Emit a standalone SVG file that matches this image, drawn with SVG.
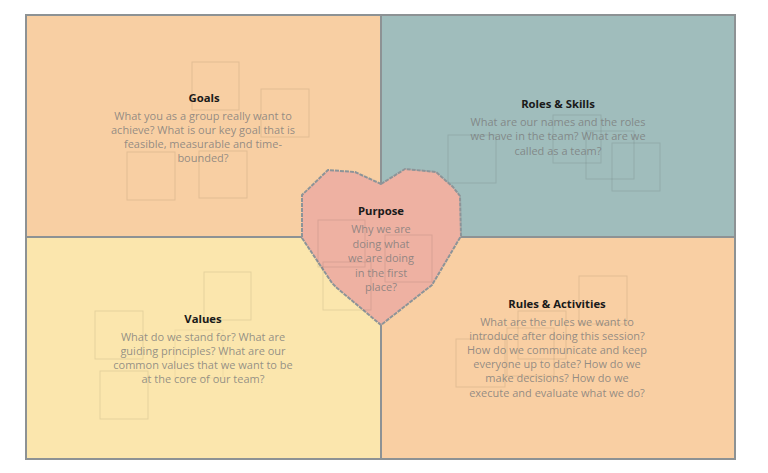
<svg xmlns="http://www.w3.org/2000/svg" width="768" height="473" viewBox="0 0 768 473">
  <style>
    .quad { stroke: #8d9294; stroke-width: 2; }
    .note { fill: none; stroke: #000; stroke-opacity: 0.09; stroke-width: 1; }
    .title { font-family: "Open Sans", "Liberation Sans", sans-serif; font-size: 11.3px; font-weight: bold; fill: #1a1a1a; text-anchor: middle; }
    .body { font-family: "Open Sans", "Liberation Sans", sans-serif; font-size: 11px; fill: #7a7a7a; fill-opacity: 0.8; text-anchor: middle; }
  </style>
  <rect x="0" y="0" width="768" height="473" fill="#ffffff"/>

  <g id="goals">
    <rect class="quad" x="26" y="15" width="355" height="222" fill="#f8cfa3"/>
    <rect class="note" x="192" y="62" width="47" height="48"/>
    <rect class="note" x="261" y="89" width="48" height="48"/>
    <rect class="note" x="127" y="152" width="48" height="48"/>
    <rect class="note" x="199" y="151" width="48" height="47"/>
    <text class="title" x="204" y="102">Goals</text>
    <text class="body" x="203" y="120">What you as a group really want to</text>
    <text class="body" x="203" y="134">achieve? What is our key goal that is</text>
    <text class="body" x="203" y="148">feasible, measurable and time-</text>
    <text class="body" x="203" y="162">bounded?</text>
  </g>

  <g id="roles-skills">
    <rect class="quad" x="381" y="15" width="354" height="222" fill="#a0bdbc"/>
    <rect class="note" x="448" y="135" width="48" height="48"/>
    <rect class="note" x="553" y="115" width="48" height="48"/>
    <rect class="note" x="586" y="131" width="48" height="48"/>
    <rect class="note" x="612" y="143" width="48" height="48"/>
    <text class="title" x="558" y="108">Roles &amp; Skills</text>
    <text class="body" x="558" y="126">What are our names and the roles</text>
    <text class="body" x="558" y="140">we have in the team? What are we</text>
    <text class="body" x="558" y="155">called as a team?</text>
  </g>

  <g id="values">
    <rect class="quad" x="26" y="237" width="355" height="222" fill="#fbe6ad"/>
    <rect class="note" x="204" y="272" width="47" height="48"/>
    <rect class="note" x="95" y="311" width="48" height="48"/>
    <rect class="note" x="100" y="371" width="48" height="48"/>
    <rect class="note" x="175" y="330" width="48" height="48" style="stroke-opacity:0.05"/>
    <text class="title" x="203" y="323">Values</text>
    <text class="body" x="203" y="341">What do we stand for? What are</text>
    <text class="body" x="203" y="355">guiding principles? What are our</text>
    <text class="body" x="203" y="369">common values that we want to be</text>
    <text class="body" x="203" y="383">at the core of our team?</text>
  </g>

  <g id="rules-activities">
    <rect class="quad" x="381" y="237" width="354" height="222" fill="#f9cfa3"/>
    <rect class="note" x="579" y="276" width="48" height="48"/>
    <rect class="note" x="518" y="311" width="48" height="48"/>
    <rect class="note" x="507" y="328" width="47" height="48"/>
    <rect class="note" x="456" y="339" width="49" height="48"/>
    <text class="title" x="557" y="308">Rules &amp; Activities</text>
    <text class="body" x="557" y="326">What are the rules we want to</text>
    <text class="body" x="557" y="340">introduce after doing this session?</text>
    <text class="body" x="557" y="354">How do we communicate and keep</text>
    <text class="body" x="557" y="368">everyone up to date? How do we</text>
    <text class="body" x="557" y="382">make decisions? How do we</text>
    <text class="body" x="557" y="397">execute and evaluate what we do?</text>
  </g>

  <g id="purpose">
    <path d="M381,184 L405,169 L436,172 L453,187 L460,196 L461,236 L432,285 L423,292 L381,325 L337,288 L332,283 L302,238 L302,195 L328,170 L355,172 Z" fill="#eeb1a2" stroke="#8d9498" stroke-width="2" stroke-dasharray="4 1" stroke-linejoin="round"/>
    <rect class="note" x="318" y="220" width="47" height="47"/>
    <rect class="note" x="385" y="235" width="47" height="47"/>
    <rect class="note" x="323" y="262" width="48" height="48"/>
    <text class="title" x="381" y="215">Purpose</text>
    <text class="body" x="381" y="233">Why we are</text>
    <text class="body" x="381" y="248">doing what</text>
    <text class="body" x="381" y="262">we are doing</text>
    <text class="body" x="381" y="277">in the first</text>
    <text class="body" x="381" y="291">place?</text>
  </g>

  <g id="connectors"/>
</svg>
